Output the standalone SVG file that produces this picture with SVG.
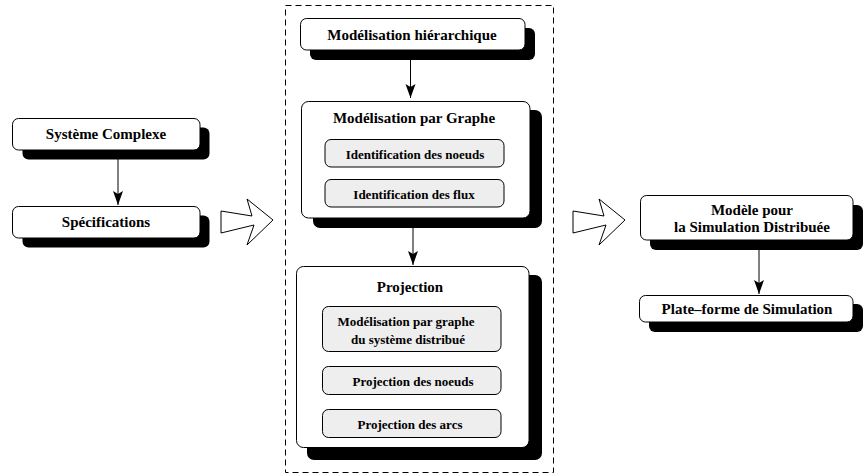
<svg xmlns="http://www.w3.org/2000/svg" width="865" height="475" viewBox="0 0 865 475">
<style>
.box{fill:#ffffff;stroke:#000000;stroke-width:1}
.inner{fill:#eeeeee;stroke:#000000;stroke-width:1}
.shadow{fill:#000000;stroke:none}
.t{font-family:"Liberation Serif","Times New Roman",serif;font-weight:bold;font-size:15px;fill:#000000;text-anchor:middle}
.s{font-size:13px}
.conn{stroke:#000000;stroke-width:1;fill:none}
.hollow{fill:#ffffff;stroke:#000000;stroke-width:1;stroke-linejoin:miter}
.frame{fill:none;stroke:#000000;stroke-width:1;stroke-dasharray:6,4}
</style>
<defs>
<marker id="ah" markerUnits="userSpaceOnUse" markerWidth="14" markerHeight="12" refX="14" refY="5" orient="auto">
<path d="M0,0 L14,5 L0,10 L3,5 z" fill="#000000"/>
</marker>
</defs>

<rect class="frame" x="285.5" y="5.5" width="268" height="467"/>

<g id="systeme-complexe">
<rect class="shadow" x="22.5" y="127.5" width="187" height="32" rx="6"/>
<rect class="box" x="12.5" y="118.5" width="187.5" height="31.5" rx="6"/>
<text class="t" x="106" y="139">Système Complexe</text>
</g>

<g id="specifications">
<rect class="shadow" x="22.5" y="215.5" width="187" height="32" rx="6"/>
<rect class="box" x="12.5" y="206.5" width="187.5" height="31.5" rx="6"/>
<text class="t" x="106" y="227">Spécifications</text>
</g>

<g id="modelisation-hierarchique">
<rect class="shadow" x="310" y="28" width="225" height="32" rx="6"/>
<rect class="box" x="300.5" y="18.5" width="224.5" height="31.5" rx="6"/>
<text class="t" x="412" y="40">Modélisation hiérarchique</text>
</g>

<g id="modelisation-graphe">
<rect class="shadow" x="313" y="110" width="229" height="118" rx="7"/>
<rect class="box" x="301.5" y="101.5" width="228.5" height="116.5" rx="7"/>
<text class="t" x="414" y="123">Modélisation par Graphe</text>
<g id="identification-noeuds">
<rect class="inner" x="325" y="139.5" width="179" height="27.5" rx="6"/>
<text class="t s" x="415" y="159">Identification des noeuds</text>
</g>
<g id="identification-flux">
<rect class="inner" x="325" y="179.5" width="179" height="27.5" rx="6"/>
<text class="t s" x="414" y="198.5">Identification des flux</text>
</g>
</g>

<g id="projection">
<rect class="shadow" x="307" y="275" width="235" height="185" rx="7"/>
<rect class="box" x="296.5" y="266.5" width="232.5" height="181" rx="7"/>
<text class="t" x="410" y="292">Projection</text>
<g id="modelisation-graphe-distribue">
<rect class="inner" x="322.5" y="306.5" width="178.5" height="45" rx="6"/>
<text class="t s" x="406" y="326">Modélisation par graphe</text>
<text class="t s" x="408" y="343.5">du système distribué</text>
</g>
<g id="projection-noeuds">
<rect class="inner" x="322.5" y="366.5" width="178.5" height="28" rx="6"/>
<text class="t s" x="413" y="385.5">Projection des noeuds</text>
</g>
<g id="projection-arcs">
<rect class="inner" x="322.5" y="409.5" width="178.5" height="28" rx="6"/>
<text class="t s" x="410" y="428.5">Projection des arcs</text>
</g>
</g>

<g id="modele-simulation">
<rect class="shadow" x="650" y="205" width="213" height="45" rx="6"/>
<rect class="box" x="640.5" y="195.5" width="212.5" height="44.5" rx="6"/>
<text class="t" x="752" y="215">Modèle pour</text>
<text class="t" x="752" y="232">la Simulation Distribuée</text>
</g>

<g id="plate-forme">
<rect class="shadow" x="649" y="304" width="214" height="28" rx="6"/>
<rect class="box" x="639.5" y="295.5" width="213.5" height="26.5" rx="6"/>
<text class="t" x="747" y="313.5">Plate–forme de Simulation</text>
</g>

<g id="connectors">
<line class="conn" x1="118" y1="150" x2="118" y2="205" marker-end="url(#ah)"/>
<line class="conn" x1="410.5" y1="50" x2="410.5" y2="98" marker-end="url(#ah)"/>
<line class="conn" x1="413" y1="218" x2="413" y2="265" marker-end="url(#ah)"/>
<line class="conn" x1="759" y1="240" x2="759" y2="294" marker-end="url(#ah)"/>
<polygon class="hollow" points="221,211 252,216 247,199 273,220 247,245 254,225 221,233"/>
<polygon class="hollow" points="573,211 604,216 599,199 625,220 599,245 606,225 573,233"/>
</g>
</svg>
